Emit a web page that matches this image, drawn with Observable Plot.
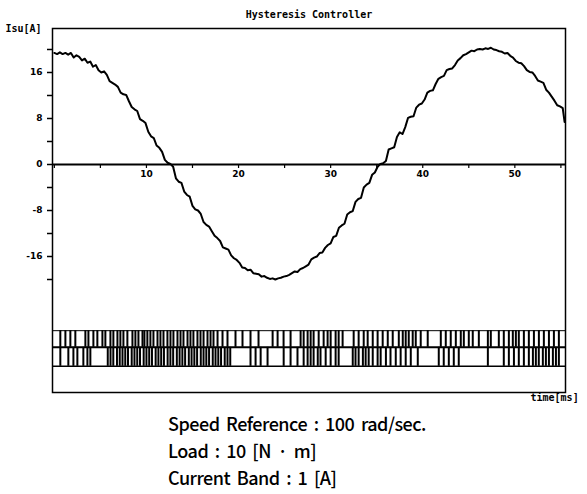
<!DOCTYPE html>
<html><head><meta charset="utf-8">
<script src="https://cdn.jsdelivr.net/npm/d3@7"></script>
<script src="https://cdn.jsdelivr.net/npm/@observablehq/plot@0.6"></script>
<style>
body{margin:0;background:#fff;}
#cap{font-family:"Noto Sans CJK KR","Noto Sans",sans-serif;font-size:18px;letter-spacing:-0.5px;word-spacing:3px;line-height:27px;padding-left:168px;margin-top:0px;color:#000;font-weight:500}
#cap div{white-space:pre}
</style></head><body><div id="chart"></div><div id="cap"></div>
<script>
// ---- data ----
const title = "Hysteresis Controller";
const yTitle = "Isu[A]";
const xTitle = "time[ms]";
const captionLines = ["Speed Reference : 100 rad/sec.", "Load : 10 [N · m]", "Current Band : 1 [A]"];

const timeMs = [0.0,0.3,0.6,0.9,1.2,1.5,1.8,2.1,2.4,2.7,3.0,3.3,3.6,3.9,4.2,4.5,4.8,5.1,5.4,5.7,6.0,6.3,6.6,6.9,7.2,7.5,7.8,8.1,8.4,8.7,9.0,9.3,9.6,9.9,10.2,10.5,10.8,11.1,11.4,11.7,12.0,12.3,12.6,12.9,13.2,13.5,13.8,14.1,14.4,14.7,15.0,15.3,15.6,15.9,16.2,16.5,16.8,17.1,17.4,17.7,18.0,18.3,18.6,18.9,19.2,19.5,19.8,20.1,20.4,20.7,21.0,21.3,21.6,21.9,22.2,22.5,22.8,23.1,23.4,23.7,24.0,24.3,24.6,24.9,25.2,25.5,25.8,26.1,26.4,26.7,27.0,27.3,27.6,27.9,28.2,28.5,28.8,29.1,29.4,29.7,30.0,30.3,30.6,30.9,31.2,31.5,31.8,32.1,32.4,32.7,33.0,33.3,33.6,33.9,34.2,34.5,34.8,35.1,35.4,35.7,36.0,36.3,36.6,36.9,37.2,37.5,37.8,38.1,38.4,38.7,39.0,39.3,39.6,39.9,40.2,40.5,40.8,41.1,41.4,41.7,42.0,42.3,42.6,42.9,43.2,43.5,43.8,44.1,44.4,44.7,45.0,45.3,45.6,45.9,46.2,46.5,46.8,47.1,47.4,47.7,48.0,48.3,48.6,48.9,49.2,49.5,49.8,50.1,50.4,50.7,51.0,51.3,51.6,51.9,52.2,52.5,52.8,53.1,53.4,53.7,54.0,54.3,54.6,54.9,55.2,55.4];
const isuA = [19.4,19.2,19.5,19.2,19.4,19.1,19.4,18.6,19.0,18.7,18.1,18.4,17.7,17.9,17.0,17.3,16.4,16.0,16.2,15.6,14.5,14.2,13.9,13.5,12.5,12.2,12.1,11.0,10.0,9.6,9.3,7.9,7.6,7.2,5.7,4.9,4.6,3.3,2.9,2.2,0.8,0.3,0.1,-0.4,-2.4,-3.0,-3.2,-4.7,-5.3,-5.6,-7.2,-7.8,-8.0,-8.6,-10.0,-10.5,-10.8,-11.6,-12.4,-12.8,-13.3,-14.4,-14.6,-14.8,-15.8,-16.3,-16.6,-17.1,-17.9,-18.0,-18.4,-18.3,-18.9,-19.0,-19.1,-19.5,-19.4,-19.7,-19.9,-19.8,-20.0,-19.8,-19.7,-19.5,-19.4,-19.2,-18.9,-18.6,-18.7,-18.2,-18.0,-17.7,-17.4,-16.5,-16.2,-16.0,-15.4,-15.3,-14.5,-14.0,-13.7,-12.6,-12.4,-11.0,-10.6,-10.3,-8.7,-8.3,-8.1,-6.5,-6.0,-5.8,-4.0,-3.5,-3.2,-1.8,-1.4,-0.4,0.1,0.2,0.6,2.6,2.8,3.0,4.8,5.6,5.3,6.5,8.1,8.3,8.4,9.9,10.4,10.6,11.3,12.5,12.8,12.9,14.0,14.9,15.2,15.4,16.4,16.6,16.7,17.3,18.1,18.5,19.0,19.2,19.5,19.8,19.7,20.0,20.1,20.0,20.2,20.1,20.3,20.0,19.9,19.7,19.6,19.3,19.4,18.9,18.6,18.0,17.7,17.6,17.1,16.4,16.1,16.0,15.4,14.6,14.4,14.2,13.0,12.5,11.8,11.1,10.3,10.1,9.8,7.4];

// switching instants [ms] of the two gate signals drawn under the current trace
const switchUpper = [0.65,1.2,1.74,2.28,3.37,3.7,4.24,4.67,5.22,5.54,6.09,6.41,6.85,7.17,7.5,7.93,8.48,8.8,9.13,9.57,9.78,10.1,10.43,10.76,11.2,11.52,11.85,12.28,12.61,12.93,13.37,13.7,14.02,14.46,14.78,15.1,15.54,15.87,16.2,16.63,16.96,17.28,17.72,18.26,18.8,19.67,20.43,21.3,22.17,23.7,24.24,24.89,25.65,26.74,27.07,27.5,27.83,28.15,28.7,29.24,29.67,30.0,30.54,30.87,31.3,32.5,33.04,33.59,34.02,34.57,35.1,35.65,36.2,36.74,37.4,37.83,38.15,38.48,38.91,39.24,39.78,40.54,41.96,42.5,43.04,43.59,44.13,44.46,45.0,45.43,46.09,47.07,47.39,48.26,48.8,49.35,49.78,50.11,50.43,50.98,51.52,52.07,52.61,53.15,53.7,54.24,54.78];
const switchLower = [0.65,1.52,2.07,2.5,3.15,3.59,3.91,5.8,6.1,6.4,6.8,7.1,7.4,7.7,8.0,8.4,8.7,9.0,9.3,9.7,10.0,10.3,10.6,11.0,11.3,11.6,11.9,12.3,12.6,12.9,13.3,13.6,13.9,14.2,14.6,14.9,15.2,15.5,15.9,16.2,16.5,16.8,17.2,17.5,17.8,18.1,18.5,18.8,19.1,21.3,21.85,22.4,23.15,24.9,25.65,26.4,27.07,27.5,27.83,28.15,28.6,28.9,29.46,30.0,30.54,30.87,32.4,32.7,33.04,33.5,33.8,34.13,34.57,35.1,35.43,36.0,36.5,37.07,37.6,38.15,38.7,39.46,41.74,42.28,42.83,43.37,43.91,47.07,48.8,49.35,49.9,50.43,50.98,51.52,51.96,52.28,52.6,53.04,53.37,53.7,54.13,54.46,54.78];

const yTicks = [-20,-16,-12,-8,-4,0,4,8,12,16,20];
const yLabels = [16,8,0,-8,-16];
const xTicks = [0,5,10,15,20,25,30,35,40,45,50,55];
const xLabels = [10,20,30,40,50];

// ---- layout ----
const rowTop = -28.9, rowMid = -31.8, rowBot = -35.1;
const curve = timeMs.map((t, i) => ({t, v: isuA[i]}));

const chart = Plot.plot({
  width: 587, height: 410,
  marginLeft: 52, marginRight: 22, marginTop: 28, marginBottom: 18,
  x: {domain: [-0.2, 55.5], axis: null},
  y: {domain: [-39.65, 23.65]},
  style: {fontFamily: "DejaVu Sans", fontSize: "9px", fontWeight: "bold", color: "#000", background: "#fff"},
  marks: [
    Plot.frame({stroke: "#000", strokeWidth: 1.5}),
    Plot.axisY(yTicks, {tickSize: 5, tickPadding: 5, label: null, strokeWidth: 1.5,
      tickFormat: d => yLabels.includes(d) ? String(d) : ""}),
    Plot.ruleY([0], {strokeWidth: 2}),
    Plot.ruleX(xTicks, {x: d => d, y1: 0, y2: -0.7, strokeWidth: 1.2}),
    Plot.text(xLabels, {x: d => d, y: 0, dy: 10, text: d => String(d)}),
    Plot.ruleY([rowTop], {strokeWidth: 1}),
    Plot.ruleY([rowMid], {strokeWidth: 2}),
    Plot.ruleY([rowBot], {strokeWidth: 1.5}),
    Plot.ruleX(switchUpper, {x: d => d, y1: rowTop, y2: rowMid, strokeWidth: 2}),
    Plot.ruleX(switchLower, {x: d => d, y1: rowMid, y2: rowBot, strokeWidth: 2}),
    Plot.line(curve, {x: "t", y: "v", strokeWidth: 2, stroke: "#000"}),
    Plot.text([title], {frameAnchor: "top", dy: -18, fontFamily: "DejaVu Sans Mono", fontSize: 10, fontWeight: "bold"}),
    Plot.text([yTitle], {frameAnchor: "top-left", dx: -47, dy: -4, textAnchor: "start", fontFamily: "DejaVu Sans Mono", fontSize: 10, fontWeight: "bold", letterSpacing: 1}),
    Plot.text([xTitle], {frameAnchor: "bottom-right", dx: -35, dy: 8, textAnchor: "start", fontFamily: "DejaVu Sans Mono", fontSize: 10, fontWeight: "bold", letterSpacing: 2})
  ]
});
document.getElementById("chart").appendChild(chart);
const cap = document.getElementById("cap");
captionLines.forEach(s => { const d = document.createElement("div"); d.textContent = s; cap.appendChild(d); });
</script></body></html>
